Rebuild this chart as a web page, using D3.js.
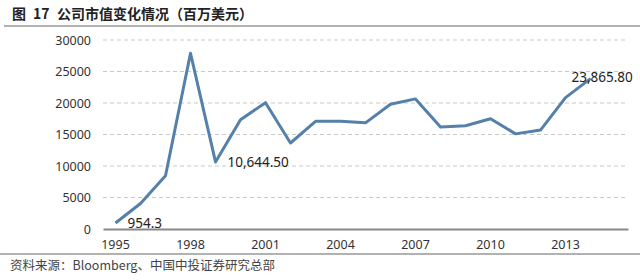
<!DOCTYPE html>
<html><head><meta charset="utf-8">
<script src="https://cdn.jsdelivr.net/npm/d3@7"></script>
<style>body{margin:0;background:#fff;}svg{display:block;font-family:"Noto Sans CJK SC","Noto Sans",sans-serif;}</style>
</head><body><svg id="c" width="640" height="280"></svg>
<script>
const years = d3.range(1995, 2016).map(String);
const values = [954.3, 4050, 8450, 27900, 10644.5, 17350, 20050, 13650, 17100, 17100, 16850, 19800, 20650, 16200, 16400, 17500, 15100, 15700, 20850, 23865.8, null];
const yTicks = [0, 5000, 10000, 15000, 20000, 25000, 30000];
const xTickLabels = ["1995", "1998", "2001", "2004", "2007", "2010", "2013"];
const labeled = {"1995": "954.3", "1999": "10,644.50", "2014": "23,865.80"};
const titleParts = ["图", "17", "公司市值变化情况（百万美元）"];
const source = "资料来源：Bloomberg、中国中投证券研究总部";

(function () {
const svg = d3.select("#c");
const mLeft = 103, mRight = 628, mTop = 40, mBottom = 229;
const numFont = "'Noto Sans','Open Sans',sans-serif";
const x = d3.scaleBand().domain(years).range([mLeft, mRight]);
const y = d3.scaleLinear().domain([0, 30000]).range([mBottom, mTop]);

// title
const tx = [12, 33, 57];
const t = svg.append("text").attr("y", 19).attr("font-size", 14).attr("font-weight", "bold").attr("fill", "#222");
t.selectAll("tspan").data(titleParts).join("tspan").attr("x", (d, i) => tx[i]).text(d => d);
svg.append("line").attr("x1", 4).attr("x2", 640).attr("y1", 26).attr("y2", 26).attr("stroke", "#666").attr("stroke-width", 1.2);

// grid
svg.append("g").selectAll("line").data(yTicks.filter(d => d > 0)).join("line")
  .attr("x1", mLeft).attr("x2", mRight).attr("y1", d => y(d)).attr("y2", d => y(d))
  .attr("stroke", "#c8c8c8").attr("stroke-dasharray", "4,3").attr("stroke-width", 1);

// y axis
const ya = svg.append("g").attr("transform", `translate(${mLeft},0)`)
  .call(d3.axisLeft(y).tickValues(yTicks).tickSize(0).tickPadding(12).tickFormat(d3.format("d")));
ya.select(".domain").remove();
ya.selectAll("text").attr("font-size", 12.5).attr("fill", "#333").attr("font-family", numFont);

// x axis
const xa = svg.append("g").attr("transform", `translate(0,${mBottom})`)
  .call(d3.axisBottom(x).tickValues(xTickLabels).tickSize(0).tickPadding(11));
xa.select(".domain").attr("stroke", "#888").attr("stroke-width", 2);
xa.selectAll("text").attr("font-size", 12.5).attr("fill", "#333").attr("font-family", numFont);

// line
const pts = years.map((yr, i) => ({yr, v: values[i]})).filter(d => d.v != null);
svg.append("path").datum(pts)
  .attr("d", d3.line().x(d => x(d.yr) + x.bandwidth() / 2).y(d => y(d.v)))
  .attr("fill", "none").attr("stroke", "#5480a9").attr("stroke-width", 3).attr("stroke-linejoin", "round");

// labels
const lab = pts.filter(d => labeled[d.yr]);
svg.append("g").selectAll("text").data(lab).join("text")
  .attr("x", d => x(d.yr) + x.bandwidth() / 2 + (d.yr === "2014" ? -19 : 12))
  .attr("y", d => y(d.v) + (d.yr === "2014" ? -1 : 0))
  .attr("dy", "0.35em")
  .attr("font-size", 13.5).attr("fill", "#222").attr("font-family", numFont)
  .text(d => labeled[d.yr]);

// bottom rule & source
svg.append("line").attr("x1", 0).attr("x2", 640).attr("y1", 254).attr("y2", 254).attr("stroke", "#666").attr("stroke-width", 1.2);
svg.append("text").attr("x", 10).attr("y", 270).attr("font-size", 12.5).attr("fill", "#444").text(source);
})();
</script></body></html>
